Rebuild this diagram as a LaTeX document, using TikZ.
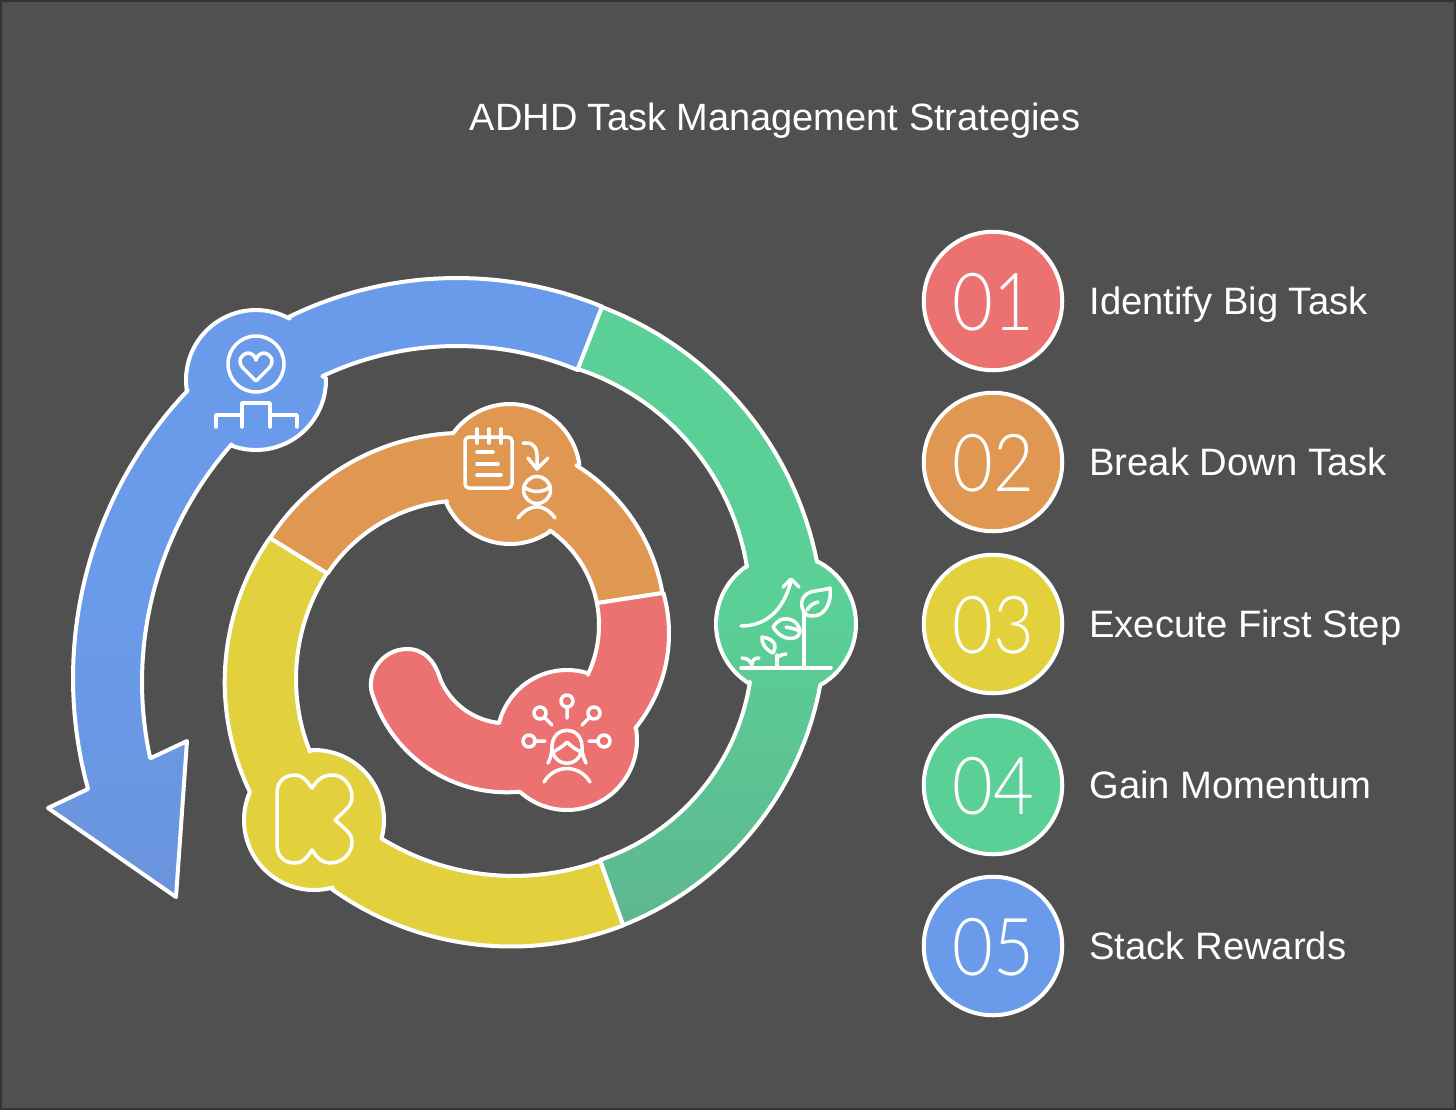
\documentclass[tikz,border=0pt]{standalone}
\usepackage{fontspec}
\setmainfont{Liberation Sans}
\newfontfamily\digitfont[FakeStretch=0.88]{Lato Light}
\definecolor{bgc}{HTML}{505050}
\definecolor{edgec}{HTML}{333333}
\definecolor{redc}{HTML}{EC7272}
\definecolor{orangec}{HTML}{E09751}
\definecolor{yellowc}{HTML}{E2D13C}
\definecolor{greenc}{HTML}{5ACF96}
\definecolor{greenb}{HTML}{5EB78F}
\definecolor{bluec}{HTML}{6A9BEB}
\definecolor{blueb}{HTML}{6A94DC}
\newcommand\carc[5]{-- plot[domain=#4:#5,samples=40] ({#1+#3*cos(\x)},{#2+#3*sin(\x)})}
\tikzset{
  band/.style={draw=white,line width=2pt,line join=round},
  ico/.style={draw=white,line width=1.75pt,line cap=round,line join=round,fill=none},
  badge/.style={circle,draw=white,line width=2pt,minimum size=138.5pt*0.5,inner sep=0pt},
  digit/.style={text=white,font=\digitfont\fontsize{40}{40}\selectfont,anchor=base},
  lab/.style={text=white,font=\fontsize{19.1}{22}\selectfont,anchor=base west,inner sep=0pt}
}
\begin{document}
\begin{tikzpicture}[x=0.5pt,y=-0.5pt]
\useasboundingbox (0,0) rectangle (1456,1110);
\fill[edgec] (0,0) rectangle (1456,1110);
\fill[bgc] (2,2) rectangle (1454,1108);
\node[text=white,font=\fontsize{19}{22}\selectfont,inner sep=0pt,anchor=base] (title) at (775,130) {ADHD Task Management Strategies};
% blue
\draw[band,top color=bluec,bottom color=blueb,middle color=bluec]
 (602,307) \carc{457}{661}{383}{292.3}{244}
 \carc{256}{380}{70}{298.7}{171.6}
 \carc{491}{678}{418}{223.5}{164.6}
 -- (48,808) -- (176,897) -- (187,741) -- (151,758)
 \carc{502}{682}{360}{167.8}{221.3}
 \carc{256}{380}{70}{110}{-1.7}
 \carc{457}{661}{315}{244.7}{292.5} -- cycle;
% green
\draw[band,top color=greenc,bottom color=greenb,middle color=greenc]
 (602,307) \carc{480}{628}{343.4}{290.8}{348.9}
 \carc{786}{624}{70}{-63.4}{60.9}
 \carc{505}{627.3}{320.5}{10.4}{68.4}
 -- (600,860)
 \carc{528.4}{647.5}{224.2}{71.4}{8.8}
 \carc{786}{624}{70}{121.8}{236.3}
 \carc{499.6}{607}{250.6}{-9.2}{-71.8} -- cycle;
% yellow
\draw[band,fill=yellowc]
 (623,925) \carc{511}{638}{308.5}{68.7}{125.5}
 \carc{314}{820}{70}{74.4}{203.6}
 \carc{477.5}{682}{252.8}{154.2}{214.8}
 -- (327,573)
 \carc{492}{679}{196}{212.7}{158.2}
 \carc{314}{820}{70}{266.6}{375}
 \carc{513.7}{623.2}{252.7}{121.5}{70} -- cycle;
% orange
\draw[band,fill=orangec]
 (270,538) \carc{464.4}{664.8}{232}{213.1}{267.2}
 \carc{510}{474}{70}{215.7}{352.4}
 \carc{477.3}{625}{187.9}{-58.1}{-9.8}
 -- (598,603)
 \carc{483.2}{625}{115.8}{-10.9}{-54.9}
 \carc{510}{474}{70}{54.5}{155.3}
 \carc{464.4}{664.8}{164.5}{263.9}{213.7} -- cycle;
% red
\draw[band,fill=redc]
 (663,593) \carc{519}{633.5}{150}{-15.7}{39.2}
 \carc{567}{740}{70}{-10}{132}
 \carc{506.7}{651.3}{141}{84.6}{161.1}
 .. controls (364,675) and (382,649) .. (407,649) .. controls (424,649) and (434,660) .. (440,678)
 \carc{506.7}{651.3}{72}{158}{96}
 \carc{567}{740}{70}{194}{287.9}
 \carc{483.2}{625}{115.8}{25.5}{-10.9} -- cycle;
% icon: podium and heart
\draw[ico] (256,364) circle (28);
\draw[ico] (256,381) -- (243,368) .. controls (236,360) and (243,353) .. (248,353) .. controls (252,353) and (255,356) .. (256,360) .. controls (257,356) and (260,353) .. (264,353) .. controls (269,353) and (276,360) .. (269,368) -- cycle;
\draw[ico] (216,427) -- (216,415) -- (242,415);
\draw[ico] (242,427) -- (242,403) -- (270,403) -- (270,427);
\draw[ico] (270,415) -- (297,415) -- (297,427);
% icon: notepad and person
\draw[ico,rounded corners=2] (465,437) rectangle (512,488);
\draw[ico] (477,429) -- (477,443) (489,429) -- (489,443) (501,429) -- (501,443);
\draw[ico] (477,452) -- (493,452) (477,464) -- (498,464) (477,475) -- (501,475);
\draw[ico] (523,443) -- (527,443) .. controls (534,443) and (537,449) .. (537,455) -- (537,469);
\draw[ico] (528,458) -- (537,469) -- (548,458);
\draw[ico] (537,490) circle (13.5);
\draw[ico] (524,487) .. controls (532,493) and (542,493) .. (550,487);
\draw[ico] (518,518) .. controls (530,503) and (544,503) .. (555,518);
% icon: growth
\draw[ico] (741,626) .. controls (770,626) and (785,605) .. (791,581);
\draw[ico] (783,587) -- (791,579) -- (799,587);
\draw[ico] (741,668) -- (831,668);
\draw[ico] (804,668) -- (804,613);
\draw[ico] (804,612) .. controls (798,602) and (804,592) .. (815,591) .. controls (822,590) and (827,589) .. (830,588) .. controls (832,600) and (826,616) .. (813,616) .. controls (809,616) and (806,615) .. (804,612);
\draw[ico] (807,610) .. controls (810,605) and (814,603) .. (818,602);
\draw[ico] (800,631) .. controls (798,620) and (788,617) .. (780,620) .. controls (777,622) and (775,624) .. (773,627) .. controls (778,635) and (786,640) .. (794,638) .. controls (798,637) and (800,634) .. (800,631);
\draw[ico] (786,627) .. controls (791,628) and (796,629) .. (800,631);
\draw[ico] (777,668) -- (777,655);
\draw[ico] (773,653) .. controls (766,650) and (761,643) .. (762,637) .. controls (770,638) and (776,642) .. (775,648) -- (773,653);
\draw[ico] (778,657) .. controls (781,655) and (783,654) .. (786,654);
\draw[ico] (752,667) .. controls (752,662) and (748,658) .. (742,658);
\draw[ico] (752,664) .. controls (752,660) and (755,658) .. (759,658);
% icon: person with ideas
\draw[ico] (567,701) circle (6) (567,708) -- (567,718);
\draw[ico] (540,713) circle (6) (545,718) -- (552,725);
\draw[ico] (594,713) circle (6) (589,718) -- (582,725);
\draw[ico] (529,741) circle (6) (536,741) -- (545,741);
\draw[ico] (604,741) circle (6) (597,741) -- (589,741);
\draw[ico] (553,752) -- (560,748) .. controls (563,746) and (565,744) .. (567,742) .. controls (569,744) and (571,746) .. (574,748) -- (581,752);
\draw[ico] (548,763) .. controls (552,755) and (552,750) .. (552,746) .. controls (553,725) and (581,725) .. (582,746) .. controls (582,750) and (582,755) .. (586,763);
\draw[ico] (553,752) .. controls (556,767) and (578,767) .. (581,752);
\draw[ico] (544,782) .. controls (555,764) and (579,764) .. (590,782);
% icon: K
\draw[ico] (312,788) .. controls (305,779) and (302,775) .. (295,775) .. controls (284,775) and (277,782) .. (277,793) -- (277,845) .. controls (277,856) and (284,863) .. (295,863) .. controls (302,863) and (306,859) .. (312,850) .. controls (318,859) and (323,863) .. (330,863) .. controls (343,863) and (352,853) .. (352,842) .. controls (352,833) and (345,829) .. (335,820) .. controls (345,810) and (352,806) .. (352,797) .. controls (352,785) and (343,775) .. (333,775) .. controls (323,775) and (318,779) .. (312,788) -- cycle;
% legend
\node[badge,fill=redc] (b1) at (993,301) {};
\node[badge,fill=orangec] (b2) at (993,462) {};
\node[badge,fill=yellowc] (b3) at (993,624) {};
\node[badge,fill=greenc] (b4) at (993,785) {};
\node[badge,fill=bluec] (b5) at (993,946) {};
\node[digit] (d1) at (993,330) {01};
\node[digit] (d2) at (993,491) {02};
\node[digit] (d3) at (993,653) {03};
\node[digit] (d4) at (993,814) {04};
\node[digit] (d5) at (993,975) {05};
\node[lab] (l1) at (1089,314) {Identify Big Task};
\node[lab] (l2) at (1089,475) {Break Down Task};
\node[lab] (l3) at (1089,637) {Execute First Step};
\node[lab] (l4) at (1089,798) {Gain Momentum};
\node[lab] (l5) at (1089,959) {Stack Rewards};
\end{tikzpicture}
\end{document}
